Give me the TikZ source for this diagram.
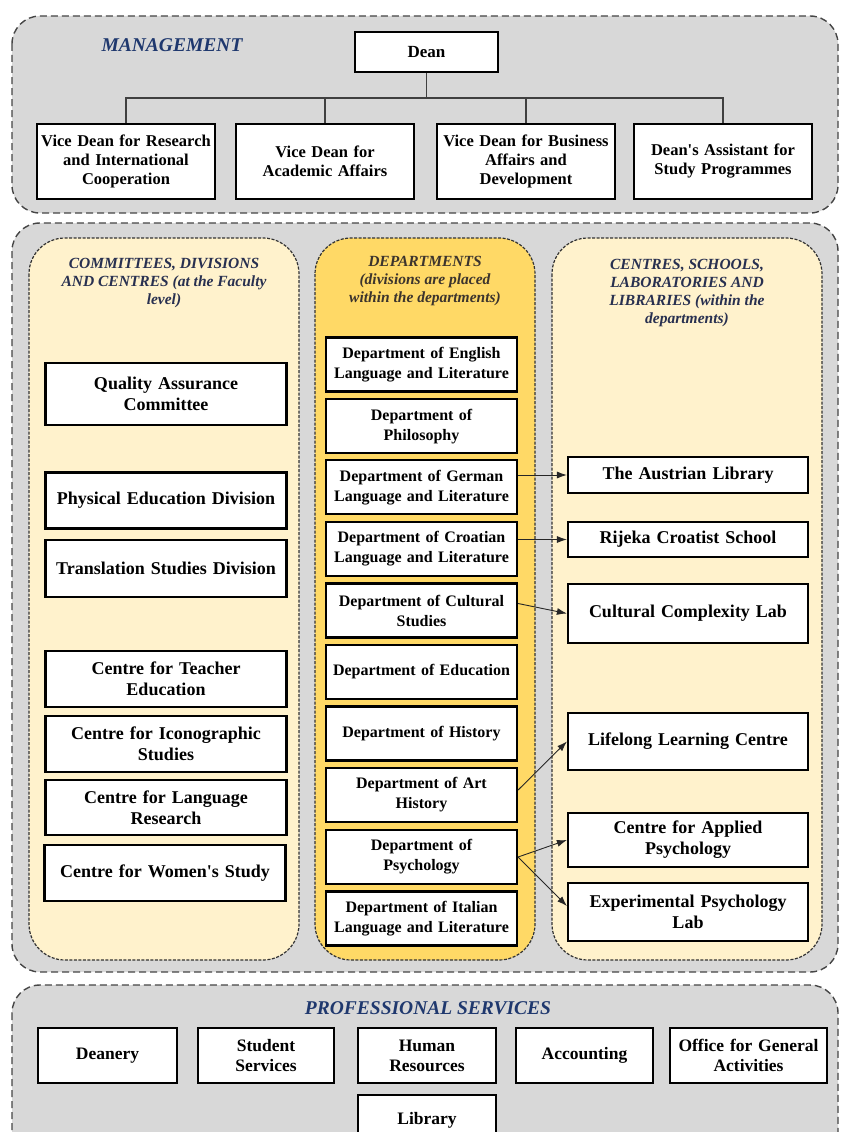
\documentclass[tikz,border=0pt]{standalone}
\usepackage{fontspec}
\setmainfont{Liberation Serif}[Ligatures=TeXOff]
\usetikzlibrary{arrows.meta}
\definecolor{secgray}{RGB}{216,216,216}
\definecolor{lightyel}{RGB}{255,242,204}
\definecolor{gold}{RGB}{255,217,102}
\definecolor{navy}{RGB}{31,56,110}
\definecolor{titlegray}{RGB}{40,48,80}
\definecolor{depttitle}{RGB}{60,52,45}
\definecolor{dashgray}{RGB}{70,70,70}
\begin{document}
\begin{tikzpicture}[x=1pt,y=-1pt,
  sectionbg/.style={draw=dashgray, dash pattern=on 7pt off 4pt, line width=1.4pt, fill=secgray, rounded corners=28pt},
  colbg/.style={draw=black!80, dash pattern=on 3pt off 1.5pt, line width=1.2pt, rounded corners=36pt},
  orgbox/.style={draw=black, line width=2.2pt, fill=white, align=center, inner sep=0pt, text=black},
  deanbox/.style={orgbox, minimum width=143pt, text width=139pt, minimum height=40pt, font=\fontsize{17}{20}\selectfont\bfseries},
  mgbox/.style={orgbox, minimum width=178pt, text width=174pt, minimum height=75pt, font=\fontsize{16.5}{19}\selectfont\bfseries},
  leftbox/.style={orgbox, minimum width=241pt, text width=237pt, minimum height=56pt, font=\fontsize{18}{21}\selectfont\bfseries},
  deptbox/.style={orgbox, minimum width=191pt, text width=187pt, minimum height=54pt, font=\fontsize{16}{20}\selectfont\bfseries},
  rightbox/.style={orgbox, minimum width=240pt, text width=236pt, font=\fontsize{18}{21}\selectfont\bfseries},
  svcbox/.style={orgbox, minimum height=55pt, font=\fontsize{17.5}{20}\selectfont\bfseries},
  bigtitle/.style={text=navy, font=\fontsize{19.5}{22}\selectfont\bfseries\itshape},
  coltitle/.style={text=titlegray, align=center, font=\fontsize{15.5}{18}\selectfont\bfseries\itshape},
  tree/.style={draw=black!75, line width=1.3pt},
  conn/.style={draw=black!85, line width=0.9pt, -{Latex[length=10pt,width=7pt]}}
]
\useasboundingbox (0,0) rectangle (856,1132);
\clip (0,0) rectangle (856,1132);
\fill[white] (0,0) rectangle (856,1132);

% ---------- Management ----------
\path[sectionbg] (12,16) rectangle (838,213);
\node[bigtitle] (mgmttitle) at (172,45) {MANAGEMENT};
\node[deanbox] (dean) at (426.5,52) {Dean};
\node[mgbox] (vd1) at (126,161.5) {Vice Dean for Research\\and International\\Cooperation};
\node[mgbox] (vd2) at (325,161.5) {Vice Dean for\\Academic Affairs};
\node[mgbox] (vd3) at (526,161.5) {Vice Dean for Business\\Affairs and\\Development};
\node[mgbox] (vd4) at (723,161.5) {Dean's Assistant for\\Study Programmes};
\coordinate (bus) at (426.5,98);
\draw[tree] (dean.south) -- (bus);
\draw[tree] (vd1.north) |- (bus) -| (vd4.north);
\draw[tree] (vd2.north) -- (vd2.north |- bus);
\draw[tree] (vd3.north) -- (vd3.north |- bus);

% ---------- Middle section ----------
\path[sectionbg] (12,223) rectangle (838,972);
\path[colbg, fill=lightyel] (29,238) rectangle (299,960);
\path[colbg, fill=gold] (315,238) rectangle (535,960);
\path[colbg, fill=lightyel] (552,238) rectangle (822,960);

\node[coltitle] (lefttitle) at (164,283) {COMMITTEES, DIVISIONS\\AND CENTRES (at the Faculty\\level)};
\node[coltitle, text=depttitle] (midtitle) at (425,281) {DEPARTMENTS\\(divisions are placed\\within the departments)};
\node[coltitle] (righttitle) at (687,293) {CENTRES, SCHOOLS,\\LABORATORIES AND\\LIBRARIES (within the\\departments)};

% left column
\node[leftbox, minimum height=62pt] (quality) at (166,394) {Quality Assurance\\Committee};
\node[leftbox] (physical) at (166,500.5) {Physical Education Division};
\node[leftbox, minimum height=57pt] (translation) at (166,568.5) {Translation Studies Division};
\node[leftbox] (teacher) at (166,679) {Centre for Teacher\\Education};
\node[leftbox] (icono) at (166,744) {Centre for Iconographic\\Studies};
\node[leftbox, minimum height=55pt] (language) at (166,807.5) {Centre for Language\\Research};
\node[leftbox] (women) at (165,873) {Centre for Women's Study};

% departments
\node[deptbox] (english) at (421.5,364.5) {Department of English\\Language and Literature};
\node[deptbox] (philosophy) at (421.5,426.1) {Department of\\Philosophy};
\node[deptbox] (german) at (421.5,487.2) {Department of German\\Language and Literature};
\node[deptbox] (croatian) at (421.5,549) {Department of Croatian\\Language and Literature};
\node[deptbox] (cultural) at (421.5,610.5) {Department of Cultural\\Studies};
\node[deptbox] (education) at (421.5,672) {Department of Education};
\node[deptbox] (history) at (421.5,733.5) {Department of History};
\node[deptbox] (arthist) at (421.5,795) {Department of Art\\History};
\node[deptbox] (psych) at (421.5,857) {Department of\\Psychology};
\node[deptbox] (italian) at (421.5,918.5) {Department of Italian\\Language and Literature};

% right column
\node[rightbox, minimum height=36pt] (austrian) at (688,475) {The Austrian Library};
\node[rightbox, minimum height=35pt] (rijeka) at (688,539.5) {Rijeka Croatist School};
\node[rightbox, minimum height=59pt] (complexity) at (688,613.5) {Cultural Complexity Lab};
\node[rightbox, minimum height=57pt] (lifelong) at (688,741.5) {Lifelong Learning Centre};
\node[rightbox, minimum height=54pt] (applied) at (688,840) {Centre for Applied\\Psychology};
\node[rightbox, minimum height=58pt] (experimental) at (688,912) {Experimental Psychology\\Lab};

% arrows
\draw[conn] (german.east |- austrian.west) -- (austrian.west);
\draw[conn] (croatian.east |- rijeka.west) -- (rijeka.west);
\draw[conn] ([yshift=7pt]cultural.east) -- (complexity.west);
\draw[conn] ([yshift=5pt]arthist.east) -- (lifelong.west);
\draw[conn] (psych.east) -- (applied.west);
\draw[conn] (psych.east) -- ([yshift=6pt]experimental.west);

% ---------- Professional services ----------
\path[sectionbg] (12,985) rectangle (838,1190);
\node[bigtitle] (proftitle) at (428,1008) {PROFESSIONAL SERVICES};
\node[svcbox, minimum width=139pt, text width=135pt] (deanery) at (107.5,1055.5) {Deanery};
\node[svcbox, minimum width=136pt, text width=132pt] (student) at (266,1055.5) {Student\\Services};
\node[svcbox, minimum width=138pt, text width=134pt] (human) at (427,1055.5) {Human\\Resources};
\node[svcbox, minimum width=137pt, text width=133pt] (accounting) at (584.5,1055.5) {Accounting};
\node[svcbox, minimum width=157pt, text width=153pt] (office) at (748.5,1055.5) {Office for General\\Activities};
\node[svcbox, minimum width=138pt, text width=134pt, minimum height=50pt] (library) at (427,1120) {Library};
\end{tikzpicture}
\end{document}
